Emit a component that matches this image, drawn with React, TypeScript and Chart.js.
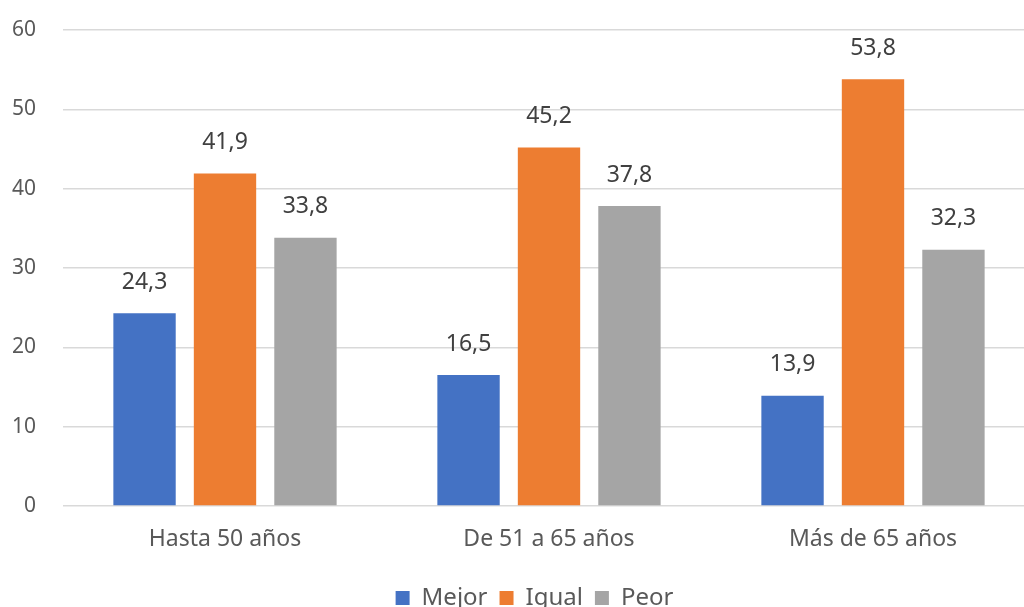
import React, { useEffect, useRef } from "react";
import { Chart, registerables } from "chart.js";

Chart.register(...registerables);

const categories = ["Hasta 50 años", "De 51 a 65 años", "Más de 65 años"];
const mejor = [24.3, 16.5, 13.9];
const igual = [41.9, 45.2, 53.8];
const peor = [33.8, 37.8, 32.3];
const seriesNames = ["Mejor", "Igual", "Peor"];
const seriesColors = ["#4472C4", "#ED7D31", "#A5A5A5"];
const yTicks = [0, 10, 20, 30, 40, 50, 60];

const FONT = "'Noto Sans', 'Open Sans', sans-serif";

const labelPlugin = {
  id: "barLabels",
  afterLayout(chart: any) {
    if (chart.legend) {
      chart.legend.left += 13;
      chart.legend.right += 13;
    }
  },
  afterDatasetsDraw(chart: any) {
    const ctx = chart.ctx;
    ctx.save();
    ctx.font = `23px ${FONT}`;
    ctx.fillStyle = "#404040";
    ctx.textAlign = "center";
    ctx.textBaseline = "middle";
    chart.data.datasets.forEach((ds: any, i: number) => {
      const meta = chart.getDatasetMeta(i);
      meta.data.forEach((bar: any, j: number) => {
        const v = ds.data[j] as number;
        ctx.fillText(v.toFixed(1).replace(".", ","), bar.x, bar.y - 31);
      });
    });
    ctx.restore();
  },
};

const W = 1040;
const H = 620;

export default function App() {
  const ref = useRef<HTMLCanvasElement>(null);
  useEffect(() => {
    document.body.style.margin = "0";
    document.body.style.overflow = "hidden";
    const data = [mejor, igual, peor];
    const chart = new Chart(ref.current!, {
      type: "bar",
      data: {
        labels: categories,
        datasets: seriesNames.map((n, i) => ({
          label: n,
          data: data[i],
          backgroundColor: seriesColors[i],
          categoryPercentage: 0.745,
          barPercentage: 0.775,
        })),
      },
      options: {
        animation: false,
        responsive: false,
        maintainAspectRatio: false,
        layout: { padding: { left: 8, right: W - 1035, top: 30, bottom: 0 } },
        plugins: {
          legend: {
            position: "bottom",
            labels: {
              font: { family: FONT, size: 24 },
              color: "#595959",
              boxWidth: 14,
              boxHeight: 14,
              padding: 12,
            },
          },
          tooltip: { enabled: false },
        },
        scales: {
          x: {
            grid: { display: false },
            border: { display: false },
            ticks: { font: { family: FONT, size: 23 }, color: "#595959", padding: 12 },
            afterFit: (s: any) => {
              s.height = 68;
              s.paddingLeft = 0;
              s.paddingRight = 0;
            },
          },
          y: {
            min: 0,
            max: 60,
            afterBuildTicks: (s: any) => { s.ticks = yTicks.map((v) => ({ value: v })); },
            grid: { color: "#D9D9D9", lineWidth: 1.5, drawTicks: false },
            border: { display: false },
            ticks: { font: { family: FONT, size: 21 }, color: "#595959", padding: 27 },
            afterFit: (s: any) => {
              s.width = 55;
              s.paddingTop = 0;
              s.paddingBottom = 0;
            },
          },
        },
      },
      plugins: [labelPlugin],
    });
    return () => chart.destroy();
  }, []);
  return (
    <div style={{ position: "absolute", left: 0, top: 0, width: 1024, height: 607, overflow: "hidden" }}>
      <canvas ref={ref} width={W} height={H} style={{ width: W, height: H }} />
    </div>
  );
}
